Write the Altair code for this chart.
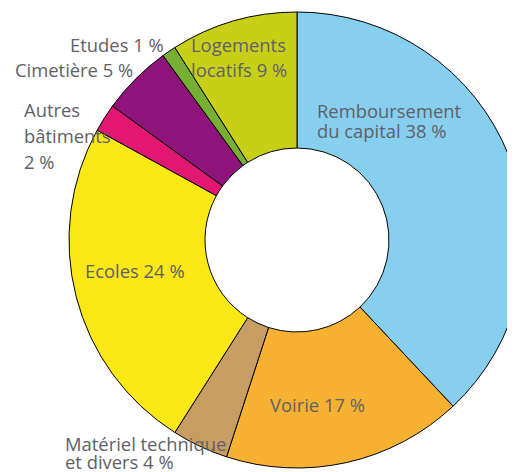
import altair as alt
import pandas as pd

# Data
categories = [
    "Remboursement du capital",
    "Voirie",
    "Matériel technique et divers",
    "Ecoles",
    "Autres bâtiments",
    "Cimetière",
    "Etudes",
    "Logements locatifs",
]
values = [38, 17, 4, 24, 2, 5, 1, 9]
colors = ["#86CFEE", "#F6B133", "#C89D63", "#FCE814", "#E2176F", "#8E137B", "#77AF33", "#C8CF17"]

# Label lines (text)
label_lines = [
    "Remboursement", "du capital 38 %",
    "Voirie 17 %",
    "Matériel technique", "et divers 4 %",
    "Ecoles 24 %",
    "Autres", "bâtiments", "2 %",
    "Cimetière 5 %",
    "Etudes 1 %",
    "Logements", "locatifs 9 %",
]
# Annotation layout (left x, baseline y in chart pixels)
label_x = [309, 309, 262, 57, 57, 77, 16, 16, 16, 7, 62, 183, 183]
label_y = [110, 130, 404, 443, 461, 270, 109, 135, 161, 69, 44, 44, 69]

df = pd.DataFrame({
    "category": categories,
    "value": values,
    "order": list(range(len(categories))),
})
labels = pd.DataFrame({"text": label_lines, "lx": label_x, "ly": label_y})

arcs = alt.Chart(df).mark_arc(
    outerRadius=228, innerRadius=92, stroke="#000000", strokeWidth=1
).encode(
    theta=alt.Theta("value:Q", stack=True),
    order=alt.Order("order:Q"),
    color=alt.Color("category:N", scale=alt.Scale(domain=categories, range=colors), legend=None),
    x=alt.value(289),
    y=alt.value(232),
)

text = alt.Chart(labels).mark_text(
    align="left", baseline="alphabetic", font="Open Sans", fontSize=18.4, color="#5E6168"
).encode(
    x=alt.X("lx:Q", scale=None, axis=None),
    y=alt.Y("ly:Q", scale=None, axis=None),
    text="text:N",
)

chart = alt.layer(arcs, text).properties(
    width=499, height=464, autosize=alt.AutoSizeParams(type="none"), padding=0
).configure_view(stroke=None)

chart.save("out.html", embed_options={"renderer": "svg", "actions": False})
